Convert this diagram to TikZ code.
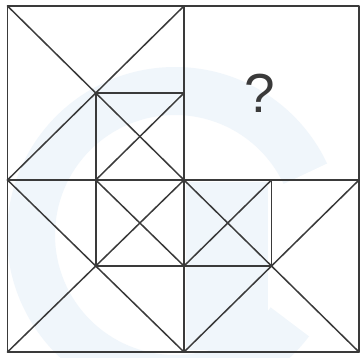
\documentclass[tikz,border=0pt]{standalone}
\usepackage{fontspec}
\setmainfont{Liberation Sans}
\definecolor{ink}{HTML}{3A3A3A}
\definecolor{wm}{HTML}{F0F6FB}
\begin{document}
\begin{tikzpicture}[x=1pt,y=-1pt,
  edge/.style={draw=ink,line width=1.5pt,line cap=round,line join=round}]
\useasboundingbox (0,0) rectangle (362,357);
\fill[white] (0,0) rectangle (362,357);
% faint watermark
\fill[wm,even odd rule] (175,235) circle[radius=168] (175,235) circle[radius=120];
\fill[white] (175,235) -- (420,120) -- (420,420) -- cycle;
\fill[wm] (186,182) rectangle (268,350);
% points
\coordinate (A) at (7.5,6);
\coordinate (B) at (184,6);
\coordinate (C) at (359,6);
\coordinate (D) at (7.5,180);
\coordinate (E) at (184,180);
\coordinate (F) at (359,180);
\coordinate (G) at (7.5,352);
\coordinate (H) at (184,352);
\coordinate (I) at (359,352);
\coordinate (c1) at (95.75,93);
\coordinate (c3) at (95.75,266);
\coordinate (c4) at (271.5,266);
% outer frame and quadrant lines
\draw[edge] (A) rectangle (I);
\draw[edge] (D) -- (F);
\draw[edge] (B) -- (H);
% top-left quadrant
\draw[edge] (A) -- (E);
\draw[edge] (B) -- (D);
\draw[edge] (c1) -- (c1 -| E);
\draw[edge] (c1) -- (c1 |- E);
\draw[edge] (c1 -| E) -- (c1 |- E);
% bottom-left quadrant
\draw[edge] (D) -- (H);
\draw[edge] (E) -- (G);
\draw[edge] (c3 |- E) -- (c3);
\draw[edge] (c3) -- (c3 -| E);
\draw[edge] (c3 |- E) -- (c3 -| E);
% bottom-right quadrant
\draw[edge] (E) -- (I);
\draw[edge] (F) -- (H);
\draw[edge] (c4 |- E) -- (c4);
\draw[edge] (c4) -- (c4 -| E);
\draw[edge] (c4 |- E) -- (c4 -| E);
% question mark
\node[text=ink,font=\fontsize{55}{60}\selectfont,inner sep=0pt] (q) at (259.5,93.5) {?};
\end{tikzpicture}
\end{document}
